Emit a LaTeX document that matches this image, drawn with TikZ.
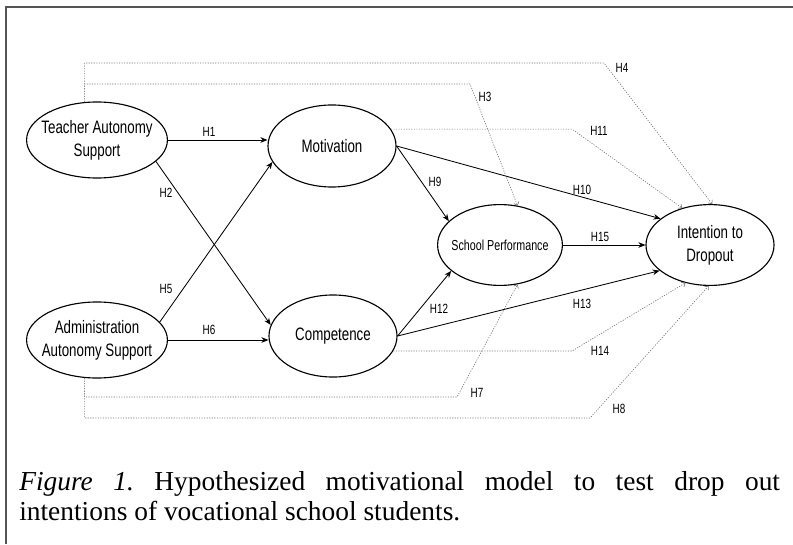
\documentclass[tikz,border=0pt]{standalone}
\usepackage{fontspec}
\setmainfont{Liberation Serif}
\newfontfamily\diagfont[FakeStretch=0.74]{Liberation Sans}
\usepackage{tikz}
\usetikzlibrary{arrows.meta, shapes.geometric, calc}
\definecolor{frameline}{RGB}{85,85,85}
\definecolor{dotline}{RGB}{115,115,115}
\frenchspacing

\begin{document}
\begin{tikzpicture}[x=0.025cm, y=-0.025cm,
  construct/.style={draw, ellipse, line width=0.8pt, inner xsep=-6pt, inner ysep=0pt, minimum width=3.52cm, minimum height=1.9cm, align=center, font=\diagfont\fontsize{12.8}{16.5}\selectfont},
  direct/.style={-{Stealth[length=5pt, width=4pt]}, line width=0.6pt},
  indirect/.style={-{To[length=2.5pt, width=4pt]}, draw=dotline, line width=0.45pt, dash pattern=on 0.8pt off 1pt},
  hyp/.style={font=\diagfont\fontsize{9.5}{11}\selectfont, inner sep=0pt}]
\useasboundingbox (0,0) rectangle (793,544);
\draw[frameline, line width=1.4pt] (793,7) -- (6,7) -- (6,544);

% constructs
\node[construct] (tas) at (97,140) {Teacher Autonomy\\Support};
\node[construct] (aas) at (97,340) {Administration\\Autonomy Support};
\node[construct, minimum width=3.2cm, minimum height=2.05cm] (mot) at (332,146) {Motivation};
\node[construct, minimum width=3.2cm, minimum height=2.05cm] (comp) at (333,336) {Competence};
\node[construct, minimum width=3.12cm, minimum height=2.02cm, font=\diagfont\fontsize{10.3}{12}\selectfont] (perf) at (500,245) {School Performance};
\node[construct, minimum width=3.2cm, minimum height=2.02cm] (drop) at (710,245) {Intention to\\Dropout};

% corners of the indirect paths
\coordinate (k4) at (604,63);
\coordinate (k3) at (470,84);
\coordinate (k11) at (572,129);
\coordinate (k14) at (572,350);
\coordinate (k7) at (457,397);
\coordinate (k8) at (590,418);

% direct paths
\draw[direct] (tas.east) -- (tas.east -| mot.west);
\draw[direct] (tas.340) -- (comp.170);
\draw[direct] (aas.16) -- (mot.195);
\draw[direct] (aas.east) -- (aas.east -| comp.west);
\draw[direct] (mot.east) -- (perf.155);
\draw[direct] (mot.east) -- (drop.152);
\draw[direct] (comp.east) -- (perf.208);
\draw[direct] (comp.east) -- (drop.207);
\draw[direct] (perf.east) -- (drop.west);

% indirect paths
\draw[indirect] (tas.108) |- (k4) -- (drop.87);
\draw[indirect] (tas.108) |- (k3) -- (perf.66);
\draw[indirect] (mot.16) -- (mot.16 -| k11) -- (drop.127);
\draw[indirect] (comp.346) -- (comp.346 -| k14) -- (drop.237);
\draw[indirect] (aas.252) |- (k7) -- (perf.294);
\draw[indirect] (aas.252) |- (k8) -- (drop.268);

% hypotheses
\node[hyp] (h1) at (209,132) {H1};
\node[hyp] (h2) at (166,193) {H2};
\node[hyp] (h3) at (485,97) {H3};
\node[hyp] (h4) at (622,68) {H4};
\node[hyp] (h5) at (166,289) {H5};
\node[hyp] (h6) at (209,330) {H6};
\node[hyp] (h7) at (477,393) {H7};
\node[hyp] (h8) at (619,409) {H8};
\node[hyp] (h9) at (435,182) {H9};
\node[hyp] (h10) at (582,190) {H10};
\node[hyp] (h11) at (599,131) {H11};
\node[hyp] (h12) at (439,309) {H12};
\node[hyp] (h13) at (582,304) {H13};
\node[hyp] (h14) at (600,351) {H14};
\node[hyp] (h15) at (600,237) {H15};

\node[anchor=base west, inner sep=0pt, text width=541pt, align=justify, font=\fontsize{19.5}{22}\selectfont] (caption) at (19,490)
  {\textit{Figure 1.} Hypothesized motivational model to test drop out\linebreak intentions of vocational school students.};
\end{tikzpicture}
\end{document}
